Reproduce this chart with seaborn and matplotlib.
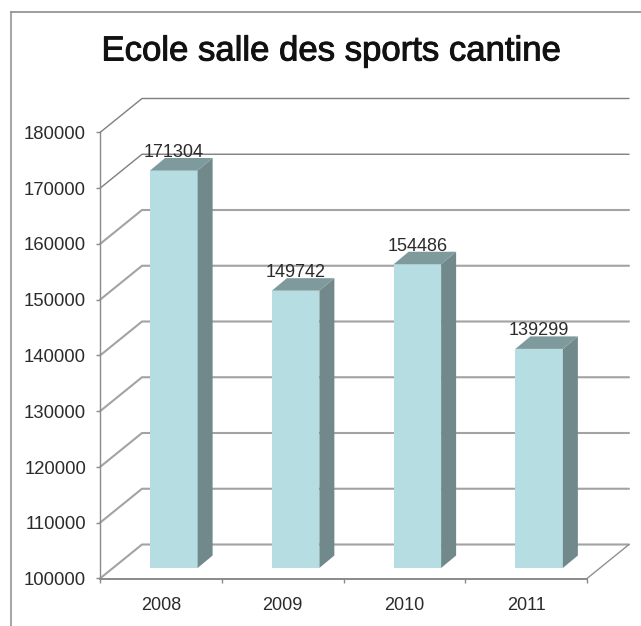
import numpy as np
import pandas as pd
import matplotlib
matplotlib.use("Agg")
import matplotlib.pyplot as plt
import matplotlib.patheffects as pe
from matplotlib.lines import Line2D
from matplotlib.patches import Polygon
import seaborn as sns

# data
years = ["2008", "2009", "2010", "2011"]
values = [171304, 149742, 154486, 139299]
y_ticks = [100000, 110000, 120000, 130000, 140000, 150000, 160000, 170000, 180000]
title = "Ecole salle des sports cantine"

sns.set_style("white")
plt.rcParams["font.family"] = ["Liberation Sans", "DejaVu Sans"]

W, H = 641, 626
FRONT = "#B6DDE2"
SIDE = "#71898B"
TOP = "#7F9A9C"
TEXT = "#2b2b2b"

fig = plt.figure(figsize=(W / 100, H / 100), dpi=100, facecolor="white")


def pixel_axes(left, top, right, bottom):
    return fig.add_axes([left / W, 1 - bottom / H, (right - left) / W, (bottom - top) / H])


# front plane of the chart: axis lines, ticks, walls
ax = pixel_axes(100, 132.5, 587, 578.5)
ax.set_xlim(-0.5, 3.5)
ax.set_ylim(y_ticks[0], y_ticks[-1])
ax.patch.set_alpha(0)

px_x = 4 / 487  # category units per pixel
px_y = (y_ticks[-1] - y_ticks[0]) / 446  # data units per pixel
wall_dx = 42 * px_x
wall_dy = 34 * px_y

for v in y_ticks:
    dark = v >= 170000
    col = "#7f7f7f" if dark else "#a3a3a3"
    lw = 1.0 if dark else 1.5
    ax.plot([-0.5, -0.5 + wall_dx, 3.5 + wall_dx], [v, v + wall_dy, v + wall_dy],
            color=col, lw=lw, clip_on=False, solid_joinstyle="round", zorder=1)
# right edge of the floor
ax.plot([3.5, 3.5 + wall_dx], [y_ticks[0], y_ticks[0] + wall_dy], color="#909090", lw=1.0,
        clip_on=False, zorder=1)

for s in ["top", "right"]:
    ax.spines[s].set_visible(False)
for s in ["left", "bottom"]:
    ax.spines[s].set_color("#8a8a8a")
    ax.spines[s].set_linewidth(1.0)
ax.spines["bottom"].set_linewidth(1.4)

ax.set_yticks(y_ticks)
ax.set_yticklabels([str(v) for v in y_ticks], fontsize=13.3, color=TEXT)
ax.set_xticks(np.arange(-0.5, 4, 1))
ax.set_xticklabels([])
ax.set_xticks(range(len(years)), labels=years, minor=True, fontsize=13, color=TEXT)
ax.tick_params(axis="y", left=True, length=3, width=1, color="#8a8a8a", pad=7)
ax.tick_params(axis="x", which="major", bottom=True, length=3, width=1, color="#8a8a8a")
ax.tick_params(axis="x", which="minor", bottom=False, length=0, pad=13)

# bars stand in the middle of the floor, so shifted up and right of the front plane
ax_bar = pixel_axes(113, 122, 600, 568)
df = pd.DataFrame({"year": years, "value": values})
sns.barplot(data=df, x="year", y="value", color=FRONT, saturation=1, width=0.39,
            linewidth=0, ax=ax_bar)
ax_bar.set_xlim(-0.5, 3.5)
ax_bar.set_ylim(y_ticks[0], y_ticks[-1])
ax_bar.axis("off")

bar_dx = 15 * px_x
bar_dy = 12.5 * px_y
for bar in ax_bar.patches:
    x0, x1 = bar.get_x(), bar.get_x() + bar.get_width()
    y1 = bar.get_height()
    ax_bar.add_patch(Polygon([(x1, y_ticks[0]), (x1 + bar_dx, y_ticks[0] + bar_dy),
                              (x1 + bar_dx, y1 + bar_dy), (x1, y1)],
                             facecolor=SIDE, edgecolor="none", clip_on=False, zorder=3))
    ax_bar.add_patch(Polygon([(x0, y1), (x0 + bar_dx, y1 + bar_dy),
                              (x1 + bar_dx, y1 + bar_dy), (x1, y1)],
                             facecolor=TOP, edgecolor="none", clip_on=False, zorder=3))

ax_bar.bar_label(ax_bar.containers[0], labels=[str(v) for v in values], padding=7,
                 fontsize=13, color=TEXT, zorder=5)

# title and the frame of the slide
fig.text(331.5 / W, 1 - 51 / H, title, ha="center", va="center", fontsize=25, color="#111111",
         path_effects=[pe.withStroke(linewidth=0.7, foreground="#111111")])
fig.add_artist(Line2D([11 / W, 11 / W], [0, 1 - 12 / H], color="#a8a8a8", lw=1.5))
fig.add_artist(Line2D([11 / W, 1], [1 - 12 / H, 1 - 12 / H], color="#8c8c8c", lw=1.2))

fig.savefig("out.png", dpi=100, facecolor="white")
